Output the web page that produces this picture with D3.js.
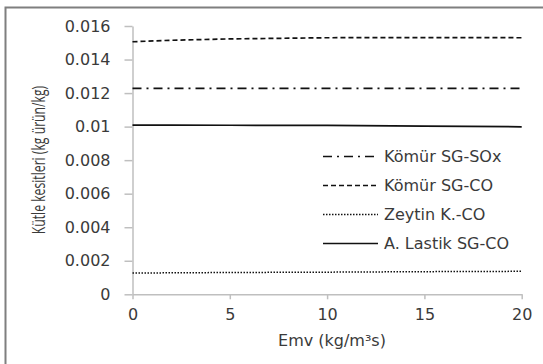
<!DOCTYPE html>
<html>
<head>
<meta charset="utf-8">
<script src="https://cdn.jsdelivr.net/npm/d3@7"></script>
<style>
  body { margin: 0; background: #fff; }
  text { font-family: "DejaVu Sans", sans-serif; fill: #3a3a3a; }
</style>
</head>
<body>
<div id="chart"></div>
<script>
// Valores
var seriesNames = ["Kömür SG-SOx", "Kömür SG-CO", "Zeytin K.-CO", "A. Lastik SG-CO"];
var emv = [0, 2, 5, 10, 15, 20];
var komurSOx = [0.01228, 0.01228, 0.01228, 0.01228, 0.01228, 0.01228];
var komurCO = [0.01506, 0.01515, 0.01523, 0.01530, 0.01531, 0.01530];
var zeytinCO = [0.00127, 0.00128, 0.00130, 0.00132, 0.00135, 0.00137];
var lastikCO = [0.01009, 0.01009, 0.01008, 0.01007, 0.01003, 0.00999];
var yTicks = [0, 0.002, 0.004, 0.006, 0.008, 0.01, 0.012, 0.014, 0.016];
var xTicks = [0, 5, 10, 15, 20];

var width = 543, height = 364;
var svg = d3.select("#chart").append("svg")
    .attr("width", width)
    .attr("height", height);

// marco exterior
svg.append("rect")
    .attr("x", 5.5).attr("y", 7.5)
    .attr("width", 560).attr("height", 380)
    .attr("fill", "none")
    .attr("stroke", "#7f7f7f")
    .attr("stroke-width", 2);

var xScale = d3.scaleLinear().domain([0, 20]).range([132.5, 521.7]);
var yScale = d3.scaleLinear().domain([0, 0.016]).range([294.3, 26]);

// ejes
var xAxis = svg.append("g")
    .attr("transform", "translate(0," + yScale(0) + ")")
    .call(d3.axisBottom(xScale).tickValues(xTicks).tickSize(5).tickSizeOuter(0).tickPadding(9));
var yAxis = svg.append("g")
    .attr("transform", "translate(" + xScale(0) + ",0)")
    .call(d3.axisLeft(yScale).tickValues(yTicks).tickSize(8).tickSizeOuter(0).tickPadding(14)
        .tickFormat(function (d) { return d === 0 ? "0" : String(+d.toFixed(3)); }));

[xAxis, yAxis].forEach(function (ax) {
    ax.select(".domain").attr("stroke", "#bfbfbf").attr("stroke-width", 1.5);
    ax.selectAll(".tick line").attr("stroke", "#bfbfbf").attr("stroke-width", 1.5);
    ax.selectAll(".tick text")
        .style("font-family", "'DejaVu Sans', sans-serif")
        .style("font-size", "16px")
        .attr("fill", "#3a3a3a");
});

// series
var series = [
    { name: seriesNames[0], values: komurSOx, dash: "9,5,2,5", w: 1.7 },
    { name: seriesNames[1], values: komurCO, dash: "5,3", w: 1.7 },
    { name: seriesNames[2], values: zeytinCO, dash: "1.5,1.5", w: 1.5 },
    { name: seriesNames[3], values: lastikCO, dash: null, w: 1.7 }
];

var line = d3.line()
    .x(function (d) { return xScale(d[0]); })
    .y(function (d) { return yScale(d[1]); });

series.forEach(function (s) {
    svg.append("path")
        .datum(emv.map(function (e, i) { return [e, s.values[i]]; }))
        .attr("d", line)
        .attr("fill", "none")
        .attr("stroke", "#111")
        .attr("stroke-width", s.w)
        .attr("stroke-dasharray", s.dash);
});

// leyenda
var legend = svg.append("g");
series.forEach(function (s, i) {
    var y = 156.5 + i * 29;
    legend.append("line")
        .attr("x1", 323).attr("x2", 378)
        .attr("y1", y).attr("y2", y)
        .attr("stroke", "#111")
        .attr("stroke-width", s.w)
        .attr("stroke-dasharray", s.dash);
    legend.append("text")
        .attr("x", 384).attr("y", y)
        .attr("dy", "0.35em")
        .style("font-size", "16px")
        .text(s.name);
});

// títulos de ejes
svg.append("text")
    .attr("x", 332).attr("y", 340)
    .attr("dy", "0.35em")
    .attr("text-anchor", "middle")
    .style("font-size", "16px")
    .text("Emv (kg/m³s)");

svg.append("text")
    .attr("transform", "translate(39,160) rotate(-90) scale(1,1.45)")
    .attr("dy", "0.35em")
    .attr("text-anchor", "middle")
    .style("font-family", "'Open Sans', sans-serif")
    .style("font-size", "12.2px")
    .text("Kütle kesitleri (kg ürün/kg)");
</script>
</body>
</html>
